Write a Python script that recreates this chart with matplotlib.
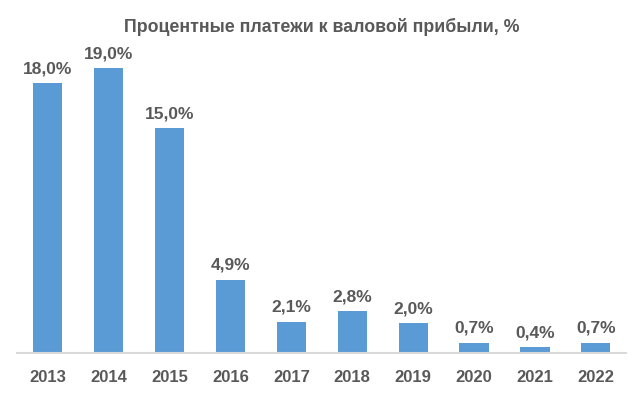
import matplotlib
matplotlib.use("Agg")
import matplotlib.pyplot as plt

years = ["2013", "2014", "2015", "2016", "2017", "2018", "2019", "2020", "2021", "2022"]
values = [18.0, 19.0, 15.0, 4.9, 2.1, 2.8, 2.0, 0.7, 0.4, 0.7]
labels = ["18,0%", "19,0%", "15,0%", "4,9%", "2,1%", "2,8%", "2,0%", "0,7%", "0,4%", "0,7%"]
title = "Процентные платежи к валовой прибыли, %"

plt.rcParams["font.family"] = ["Liberation Sans Narrow", "Liberation Sans", "DejaVu Sans"]
text_color = "#595959"

fig = plt.figure(figsize=(6.43, 3.99), dpi=100)
ax = fig.add_axes([0.027, 0.115, 0.947, 0.752])

x = range(len(years))
bars = ax.bar(x, values, width=0.48, color="#5B9BD5", zorder=2)
for b, lab in zip(bars, labels):
    ax.text(b.get_x() + b.get_width() / 2, b.get_height() + 0.45, lab,
            ha="center", va="bottom", fontsize=12.5, fontweight="bold", color=text_color)

ax.set_xlim(-0.5, 9.5)
ax.set_ylim(0, 20)
ax.set_xticks(list(x))
ax.set_xticklabels(years, fontsize=12, fontweight="bold", color=text_color)
ax.tick_params(axis="x", length=0, pad=12)
ax.set_yticks([])
for side in ["top", "right", "left"]:
    ax.spines[side].set_visible(False)
ax.spines["bottom"].set_color("#D9D9D9")
ax.spines["bottom"].set_linewidth(1.5)

fig.text(0.5, 0.932, title, ha="center", va="center", fontsize=12.8,
         fontweight="bold", color=text_color)

fig.savefig("out.png", dpi=100)
